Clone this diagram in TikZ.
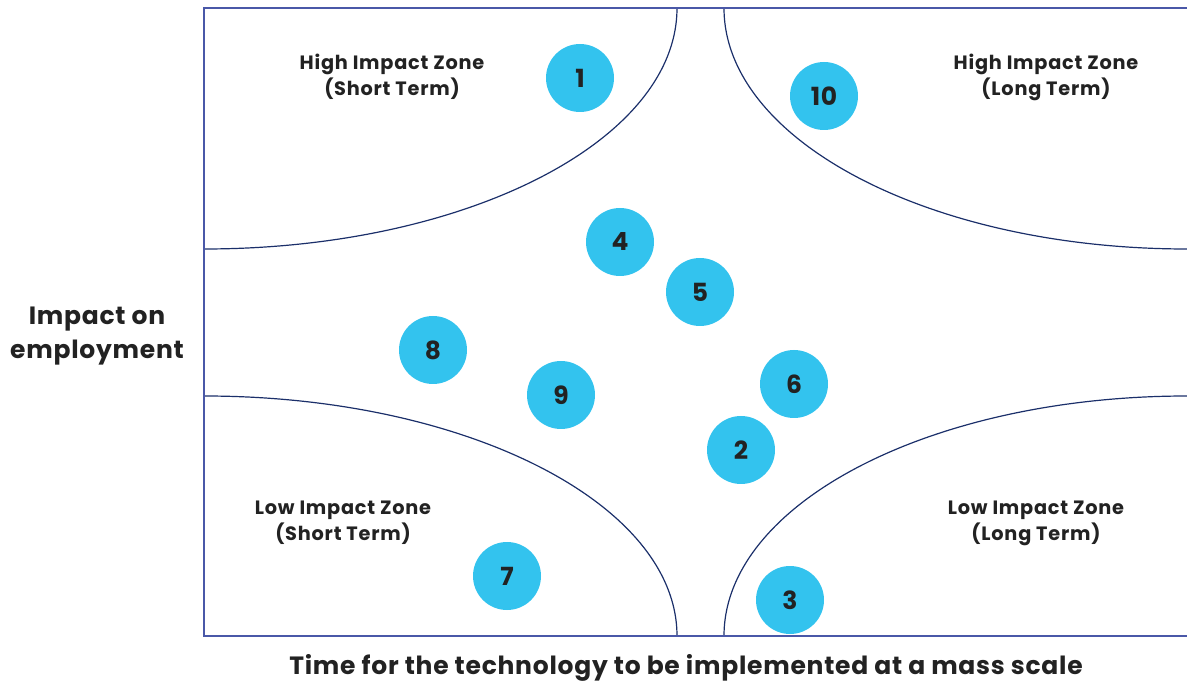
\documentclass[tikz,border=0pt]{standalone}
\usepackage{fontspec}
\setmainfont{Poppins}
\newfontfamily\widefont{Poppins}[LetterSpace=3]
\newfontfamily\zonefont{Poppins}[LetterSpace=4]
\usepackage{xcolor}
\usepackage{tikz}
\usetikzlibrary{positioning}

\definecolor{framecol}{HTML}{4A58A8}
\definecolor{arccol}{HTML}{1B2F6A}
\definecolor{dotcol}{HTML}{33C3EE}
\definecolor{inkcol}{HTML}{222222}

\begin{document}
\begin{tikzpicture}[
    x=1pt, y=-1pt,
    dot/.style={circle, fill=dotcol, minimum size=68pt, inner sep=0pt, text=inkcol, font=\widefont\fontsize{25}{28}\selectfont\bfseries},
    zone/.style={align=center, text=inkcol, font=\zonefont\fontsize{19.3}{26}\selectfont\bfseries},
    axislabel/.style={align=center, text=inkcol, font=\widefont\fontsize{25}{34}\selectfont\bfseries},
    arc/.style={draw=arccol, line width=1.2pt}
]
    \useasboundingbox (0,0) rectangle (1187,684);

    % frame
    \coordinate (tl) at (204,8);
    \coordinate (tr) at (1187,8);
    \coordinate (bl) at (204,636);
    \coordinate (br) at (1187,636);

    % zone boundaries
    \begin{scope}
        \clip (tl) rectangle (br);
        \draw[arc] (tl) ellipse [x radius=473, y radius=241];
        \draw[arc] (tr) ellipse [x radius=463, y radius=241];
        \draw[arc] (bl) ellipse [x radius=473, y radius=240];
        \draw[arc] (br) ellipse [x radius=463, y radius=240];
    \end{scope}
    \draw[framecol, line width=1.3pt] (tr) -- (tl) -- (bl) -- (br);

    \node[zone] (hishort) at (392,77) {High Impact Zone\\(Short Term)};
    \node[zone] (hilong) at (1046,77) {High Impact Zone\\(Long Term)};
    \node[zone] (loshort) at (343,523) {Low Impact Zone\\(Short Term)};
    \node[zone] (lolong) at (1036,523) {Low Impact Zone\\(Long Term)};

    \node[dot] (t1) at (580,78) {1};
    \node[dot] (t10) at (824,96) {10};
    \node[dot] (t4) at (620,242) {4};
    \node[dot] (t5) at (700,292) {5};
    \node[dot] (t8) at (433,350) {8};
    \node[dot] (t9) at (561,395) {9};
    \node[dot] (t6) at (794,384) {6};
    \node[dot] (t2) at (741,450) {2};
    \node[dot] (t7) at (507,576) {7};
    \node[dot] (t3) at (790,600) {3};

    \node[axislabel] (yaxis) at (97,336) {Impact on\\employment};
    \node[axislabel] (xaxis) at (686,668) {Time for the technology to be implemented at a mass scale};
\end{tikzpicture}
\end{document}
